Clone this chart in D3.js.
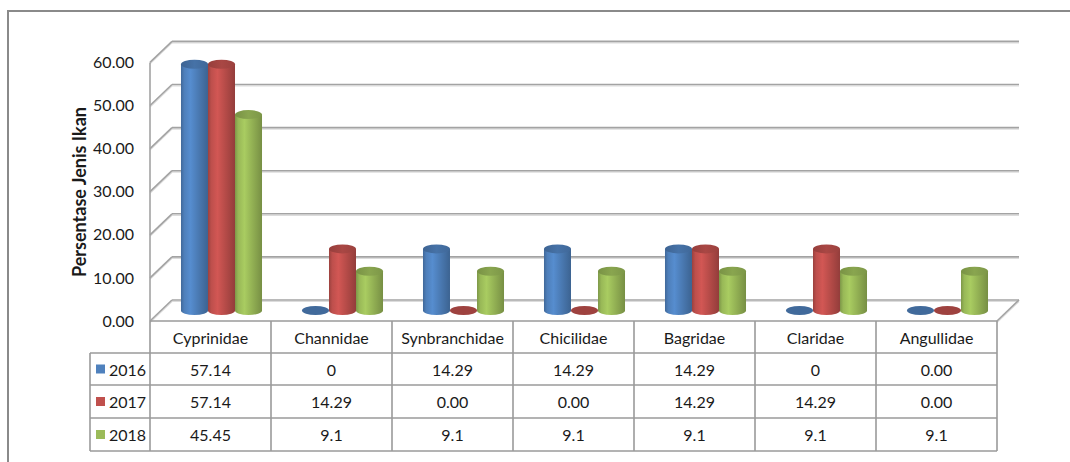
<!DOCTYPE html>
<html>
<head>
<meta charset="utf-8">
<script src="https://cdn.jsdelivr.net/npm/d3@7"></script>
<style>
  html, body { margin: 0; padding: 0; background: #fff; }
  svg { display: block; }
  text { font-family: Lato, "Open Sans", sans-serif; fill: #1a1a1a; }
</style>
</head>
<body>
<svg id="chart" width="1070" height="462"></svg>
<script>
// Fish family shares per year (percent), as printed in the data table
const categories = ["Cyprinidae", "Channidae", "Synbranchidae", "Chicilidae", "Bagridae", "Claridae", "Angullidae"];
const years = ["2016", "2017", "2018"];
const labels2016 = ["57.14", "0", "14.29", "14.29", "14.29", "0", "0.00"];
const labels2017 = ["57.14", "14.29", "0.00", "0.00", "14.29", "14.29", "0.00"];
const labels2018 = ["45.45", "9.1", "9.1", "9.1", "9.1", "9.1", "9.1"];
const yTicks = [0, 10, 20, 30, 40, 50, 60];
const colors = ["#4F81BD", "#C0504D", "#9BBB59"];
const yTitle = "Persentase Jenis Ikan";

const tableLabels = [labels2016, labels2017, labels2018];
const seriesValues = tableLabels.map(arr => arr.map(s => +s));

const svg = d3.select("#chart");
const defs = svg.append("defs");
const fontSize = "16px";

// plot box (front plane) and 3D depth offset
const left = 150, right = 997, floorY = 321, topY = 62.4;
const depthX = 22, depthY = 21;

const x = d3.scaleBand().domain(categories).range([left, right]).paddingInner(0).paddingOuter(0);
const xs = d3.scaleBand().domain(years).range([0, x.bandwidth()]).paddingInner(0).paddingOuter(0.74);
const y = d3.scaleLinear().domain([0, 60]).range([floorY, topY]);

// outer chart frame
svg.append("rect")
  .attr("x", 8).attr("y", 11).attr("width", 1100).attr("height", 480)
  .attr("fill", "none").attr("stroke", "#8a8a8a").attr("stroke-width", 2);

// gridlines on back wall + left wall diagonals
const grid = svg.append("g");
function gridLine(g, x1, y1, x2, y2) {
  g.append("line").attr("x1", x1).attr("y1", y1 + 1.5).attr("x2", x2).attr("y2", y2 + 1.5)
    .attr("stroke", "#dcdcdc").attr("stroke-width", 1.2);
  g.append("line").attr("x1", x1).attr("y1", y1).attr("x2", x2).attr("y2", y2)
    .attr("stroke", "#a3a3a3").attr("stroke-width", 1.6);
}
yTicks.forEach(t => {
  const yb = y(t) - depthY;
  gridLine(grid, left + depthX, yb, right + depthX, yb);
  gridLine(grid, left, y(t), left + depthX, yb);
});
// floor right edge and left axis line
gridLine(grid, right, floorY, right + depthX, floorY - depthY);
grid.append("line").attr("x1", left).attr("x2", left).attr("y1", y(60)).attr("y2", floorY)
  .attr("stroke", "#a3a3a3").attr("stroke-width", 1.6);

// y axis tick labels
const yAxis = d3.axisLeft(y).tickValues(yTicks).tickFormat(d3.format(".2f")).tickSize(0).tickPadding(16);
const axisG = svg.append("g").attr("transform", `translate(${left},0)`).call(yAxis);
axisG.select(".domain").remove();
axisG.selectAll("text").style("font-family", "Lato, 'Open Sans', sans-serif")
  .style("font-size", fontSize).attr("fill", "#1a1a1a");

// y axis title
svg.append("text")
  .attr("transform", "translate(86,192) rotate(-90)")
  .attr("text-anchor", "middle")
  .style("font-size", "18px").style("font-weight", "bold")
  .attr("fill", "#111")
  .text(yTitle);

// cylinder gradients per series
colors.forEach((c, i) => {
  const g = defs.append("linearGradient").attr("id", "cyl" + i)
    .attr("x1", 0).attr("x2", 1).attr("y1", 0).attr("y2", 0);
  g.append("stop").attr("offset", "0%").attr("stop-color", d3.color(c).darker(0.6));
  g.append("stop").attr("offset", "12%").attr("stop-color", d3.color(c).darker(0.05));
  g.append("stop").attr("offset", "35%").attr("stop-color", d3.color(c).brighter(0.25));
  g.append("stop").attr("offset", "70%").attr("stop-color", d3.color(c).darker(0.25));
  g.append("stop").attr("offset", "100%").attr("stop-color", d3.color(c).darker(0.75));
  const t = defs.append("linearGradient").attr("id", "cap" + i)
    .attr("x1", 0).attr("x2", 1).attr("y1", 0).attr("y2", 0);
  t.append("stop").attr("offset", "0%").attr("stop-color", d3.color(c).darker(0.7));
  t.append("stop").attr("offset", "50%").attr("stop-color", d3.color(c).darker(0.35));
  t.append("stop").attr("offset", "100%").attr("stop-color", d3.color(c).darker(0.6));
});

// bars at mid depth
const ry = 4.5;
const bars = svg.append("g");
categories.forEach((cat, ci) => {
  years.forEach((yr, si) => {
    const v = seriesValues[si][ci];
    const bx = x(cat) + xs(yr) + depthX / 2;
    const w = xs.bandwidth();
    const cx = bx + w / 2, rx = w / 2;
    const yBase = y(0) - depthY / 2;
    const yTop = y(v) - depthY / 2;
    const g = bars.append("g");
    if (v > 0) {
      g.append("path")
        .attr("d", `M${bx},${yTop} L${bx},${yBase} A${rx},${ry} 0 0 0 ${bx + w},${yBase} L${bx + w},${yTop} Z`)
        .attr("fill", `url(#cyl${si})`);
      g.append("ellipse").attr("cx", cx).attr("cy", yTop).attr("rx", rx).attr("ry", ry)
        .attr("fill", `url(#cap${si})`);
    } else {
      g.append("ellipse").attr("cx", cx).attr("cy", yBase).attr("rx", rx).attr("ry", ry)
        .attr("fill", d3.color(colors[si]).darker(0.55));
    }
  });
});

// data table below the plot
const rowLines = [321, 353, 385, 418, 451];
const legendLeft = 90;
const tbl = svg.append("g");
const lineColor = "#9a9a9a";
function tl(x1, y1, x2, y2) {
  tbl.append("line").attr("x1", x1).attr("y1", y1).attr("x2", x2).attr("y2", y2)
    .attr("stroke", lineColor).attr("stroke-width", 1.6);
}
tl(left, rowLines[0], right, rowLines[0]);
rowLines.slice(1).forEach(ry2 => tl(legendLeft, ry2, right, ry2));
tl(legendLeft, rowLines[1], legendLeft, rowLines[4]);
categories.forEach(c => tl(x(c), rowLines[0], x(c), rowLines[4]));
tl(right, rowLines[0], right, rowLines[4]);

// header: category names
tbl.selectAll("text.cat").data(categories).join("text")
  .attr("class", "cat")
  .attr("x", d => x(d) + x.bandwidth() / 2)
  .attr("y", (rowLines[0] + rowLines[1]) / 2)
  .attr("text-anchor", "middle").attr("dominant-baseline", "central")
  .style("font-size", fontSize)
  .text(d => d);

// value rows with legend keys
years.forEach((yr, si) => {
  const cy = (rowLines[si + 1] + rowLines[si + 2]) / 2;
  tbl.append("rect").attr("x", 96).attr("y", cy - 4.5).attr("width", 9).attr("height", 9)
    .attr("fill", colors[si]);
  tbl.append("text").attr("x", 109).attr("y", cy).attr("dominant-baseline", "central")
    .style("font-size", fontSize).text(yr);
  tbl.selectAll(null).data(tableLabels[si]).join("text")
    .attr("x", (d, i) => x(categories[i]) + x.bandwidth() / 2)
    .attr("y", cy)
    .attr("text-anchor", "middle").attr("dominant-baseline", "central")
    .style("font-size", fontSize)
    .text(d => d);
});
</script>
</body>
</html>
